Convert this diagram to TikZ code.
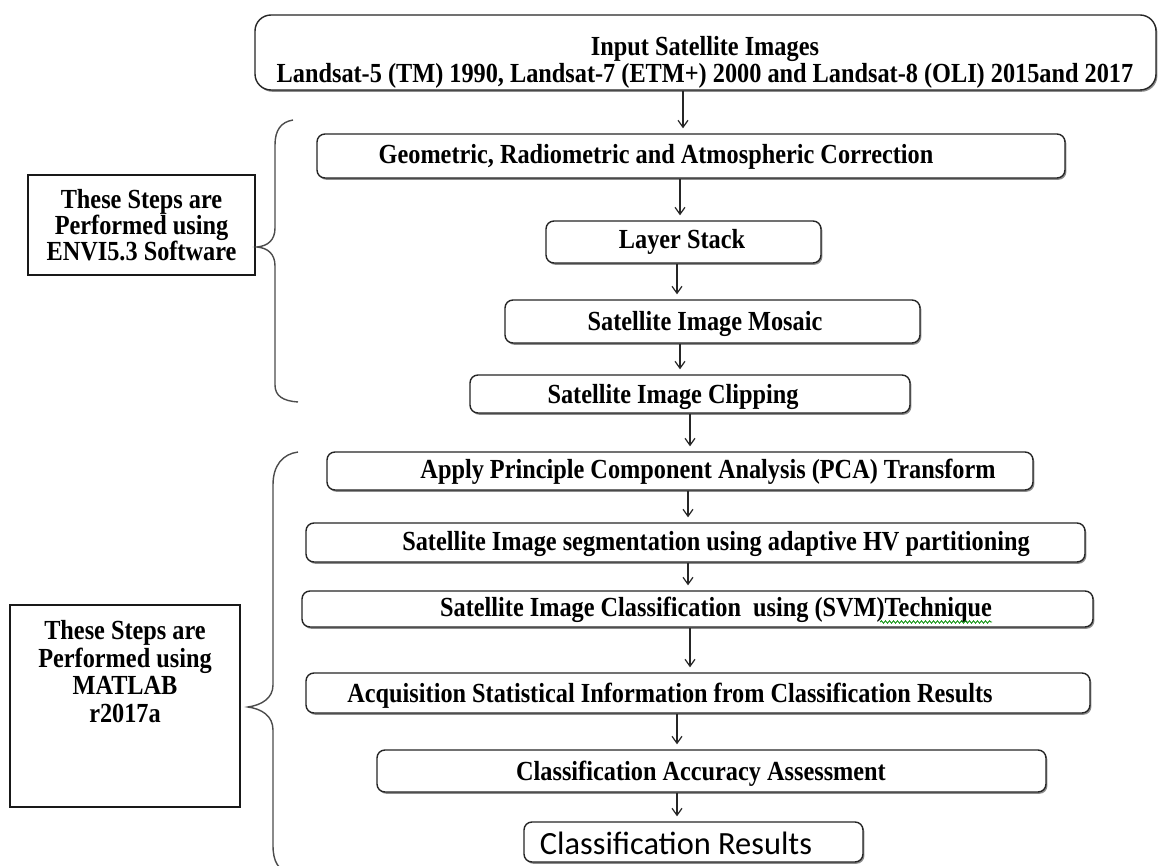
\documentclass[tikz,border=0pt]{standalone}
\usepackage{fontspec}
\setmainfont{Liberation Serif}[FakeStretch=0.88]
\newfontfamily\calib{Carlito}
\usetikzlibrary{arrows.meta,shadows,decorations.pathmorphing}
\tikzset{
  proc/.style={draw=black!85, line width=0.7pt, rounded corners=4pt, fill=white,
    drop shadow={shadow xshift=0.7pt, shadow yshift=-0.9pt, fill=black!45, opacity=1},
    inner sep=0pt},
  txt/.style={inner sep=0pt, text height=9pt, text depth=0pt,
    font=\fontsize{13.8pt}{13pt}\selectfont\bfseries},
  plainbox/.style={draw=black!90, line width=0.75pt, fill=white, inner sep=0pt},
  arr/.style={draw=black!85, line width=0.6pt, -{Straight Barb[length=3.5pt,width=5pt]},
    shorten >=2.5pt},
  brace/.style={draw=black!70, line width=0.7pt},
  squig/.style={draw=green!55!black, line width=0.4pt, decorate,
    decoration={snake, amplitude=0.6pt, segment length=2pt}}
}
\begin{document}
\begin{tikzpicture}[x=0.5pt,y=-0.5pt]
\fill[white] (0,0) rectangle (1158,866);
\useasboundingbox (0,0) rectangle (1158,866);

% top box
\node[proc, rounded corners=8pt, minimum width=450.5pt, minimum height=37.5pt] (top) at (705.5,52.5) {};
\node[inner sep=0pt, align=center, font=\fontsize{13.8pt}{12.5pt}\selectfont\bfseries] (topt) at (705,62)
  {Input Satellite Images\\Landsat-5 (TM) 1990, Landsat-7 (ETM+) 2000 and Landsat-8 (OLI) 2015and 2017};

% process boxes
\node[proc, minimum width=374pt, minimum height=22pt] (geo) at (691,156) {};
\node[txt] (geot) at (656,155) {Geometric, Radiometric and Atmospheric Correction};

\node[proc, minimum width=137.5pt, minimum height=21pt] (layer) at (683.5,242) {};
\node[txt] (layert) at (682,240) {Layer Stack};

\node[proc, minimum width=207.5pt, minimum height=21.5pt] (mosaic) at (712.5,321.5) {};
\node[txt] (mosaict) at (705,322) {Satellite Image Mosaic};

\node[proc, minimum width=220pt, minimum height=19pt] (clip) at (690,394) {};
\node[txt] (clipt) at (673,395) {Satellite Image Clipping};

\node[proc, minimum width=353pt, minimum height=19pt] (pca) at (680,471) {};
\node[txt] (pcat) at (708,470) {Apply Principle Component Analysis (PCA) Transform};

\node[proc, minimum width=389.5pt, minimum height=19.5pt] (seg) at (695.5,542.5) {};
\node[txt] (segt) at (716,542) {Satellite Image segmentation using adaptive HV partitioning};

\node[proc, minimum width=395.5pt, minimum height=18pt] (svm) at (697.5,609) {};
\node[txt] (svmt) at (716,608) {Satellite Image Classification\ \ using (SVM)Technique};
\draw[squig] (svmt.base east) ++(-112,5) coordinate (sq1) -- ++(112,0) coordinate (sq2);

\node[proc, minimum width=392pt, minimum height=20pt] (acq) at (698,693) {};
\node[txt] (acqt) at (670,693) {Acquisition Statistical Information from Classification Results};

\node[proc, minimum width=334.5pt, minimum height=21pt] (acc) at (711.5,771) {};
\node[txt] (acct) at (701,771) {Classification Accuracy Assessment};

\node[proc, minimum width=169.5pt, minimum height=20pt] (res) at (693.5,842) {};
\node[inner sep=0pt, font=\calib\fontsize{16.2pt}{18pt}\selectfont] (rest) at (676,843) {Classification Results};

% side boxes
\node[plainbox, minimum width=113.5pt, minimum height=50pt, align=center,
  font=\fontsize{13.8pt}{13pt}\selectfont\bfseries] (envi) at (141.5,225)
  {These Steps are\\Performed using\\ENVI5.3 Software};
\node[plainbox, minimum width=115pt, minimum height=101pt] (matlab) at (125,706) {};
\node[inner sep=0pt, anchor=north, align=center,
  font=\fontsize{13.8pt}{13.8pt}\selectfont\bfseries] (matlabt) at (125,620)
  {These Steps are\\Performed using\\MATLAB\\r2017a};

% arrows
\draw[arr] (top.south -| 683,0) -- (geo.north -| 683,0);
\draw[arr] (geo.south -| 680,0) -- (layer.north -| 680,0);
\draw[arr] (layer.south -| 677,0) -- (mosaic.north -| 677,0);
\draw[arr] (mosaic.south -| 680,0) -- (clip.north -| 680,0);
\draw[arr] (clip.south -| 690,0) -- (pca.north -| 690,0);
\draw[arr] (pca.south -| 688,0) -- (seg.north -| 688,0);
\draw[arr] (seg.south -| 688,0) -- (svm.north -| 688,0);
\draw[arr] (svm.south -| 690,0) -- (acq.north -| 690,0);
\draw[arr] (acq.south -| 677,0) -- (acc.north -| 677,0);
\draw[arr] (acc.south -| 677,0) -- (res.north -| 677,0);

% braces
\draw[brace] (293,120) .. controls (281,122) and (275,130) .. (275,145) -- (275,228)
  .. controls (275,240) and (268,246) .. (257,247)
  .. controls (268,248) and (275,254) .. (275,266) -- (275,385)
  .. controls (275,396) and (283,401) .. (298,402);
\draw[brace] (298,452) .. controls (283,454) and (273,465) .. (273,485) -- (273,685)
  .. controls (273,698) and (262,705) .. (248,707)
  .. controls (262,709) and (273,716) .. (273,730) -- (273,845)
  .. controls (273,862) and (278,870) .. (292,875);
\end{tikzpicture}
\end{document}
